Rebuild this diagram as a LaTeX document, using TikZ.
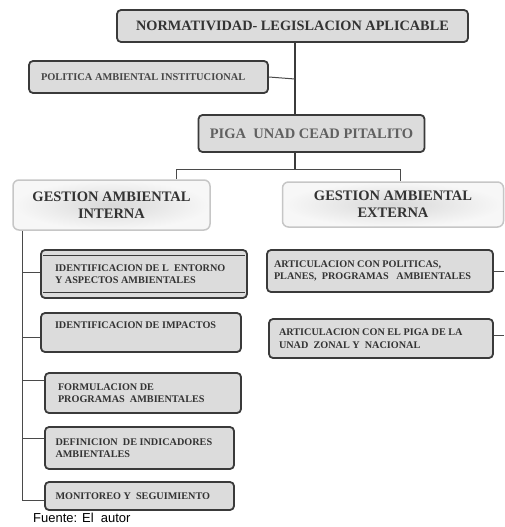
\documentclass[tikz,border=0pt]{standalone}
\usepackage{fontspec}
\setmainfont{Liberation Serif}
\newfontfamily\arialfont{Liberation Sans}
\definecolor{boxfill}{HTML}{DCDCDC}
\definecolor{boxline}{HTML}{3A3A3A}
\definecolor{txt}{HTML}{333333}
\definecolor{linec}{HTML}{4A4A4A}
\begin{document}
\begin{tikzpicture}[x=1pt,y=-1pt,
  darkbox/.style={draw=boxline, line width=1.8pt, fill=boxfill, rounded corners=4pt,
     inner sep=0pt, text=txt},
  smallbox/.style={darkbox, font=\fontsize{10.2}{12.5}\selectfont\bfseries, align=left},
  gestbox/.style={draw=gray!45, line width=1.5pt, rounded corners=6pt, inner color=gray!30,
     outer color=gray!6, inner sep=0pt, text=txt, align=center,
     font=\fontsize{14.5}{17}\selectfont\bfseries},
  conn/.style={draw=linec, line width=1pt},
  thickconn/.style={draw=linec!80!black, line width=2.2pt}]
\useasboundingbox (0,0) rectangle (504,527);

% top level
\node[darkbox, minimum width=351pt, minimum height=32pt,
  font=\fontsize{14.3}{16}\selectfont\bfseries] (norm) at (292.5,26)
  {NORMATIVIDAD- LEGISLACION APLICABLE};
\node[darkbox, minimum width=239pt, minimum height=32pt, text=gray!55!black,
  font=\fontsize{10.4}{12}\selectfont\bfseries] (pol) at (148.5,77)
  {\begin{minipage}{215pt}POLITICA AMBIENTAL INSTITUCIONAL\end{minipage}};
\node[darkbox, minimum width=226pt, minimum height=37pt, text=gray!75!black,
  font=\fontsize{14.5}{16}\selectfont\bfseries] (piga) at (311.5,133.5)
  {PIGA\ \ UNAD CEAD PITALITO};

% gestion boxes
\node[gestbox, minimum width=197pt, minimum height=50pt] (gi) at (111.5,205)
  {GESTION AMBIENTAL\\INTERNA};
\node[gestbox, minimum width=221pt, minimum height=45pt] (ge) at (393,204.5)
  {GESTION AMBIENTAL\\EXTERNA};

% internal boxes
\node[smallbox, minimum width=206pt, minimum height=48pt] (b1) at (144,274)
  {\begin{minipage}{178pt}IDENTIFICACION DE L\ \ ENTORNO\\Y ASPECTOS AMBIENTALES\end{minipage}};
\draw[boxline, line width=0.6pt] ([xshift=3pt,yshift=-6pt]b1.north west) -- ([xshift=-3pt,yshift=-6pt]b1.north east);
\draw[boxline, line width=0.6pt] ([xshift=3pt,yshift=7pt]b1.south west) -- ([xshift=-3pt,yshift=7pt]b1.south east);
\node[smallbox, minimum width=200pt, minimum height=39pt] (b2) at (141,332.5)
  {\begin{minipage}{172pt}IDENTIFICACION DE IMPACTOS\\[3pt]\end{minipage}};
\node[smallbox, minimum width=196pt, minimum height=40pt] (b3) at (143,393)
  {\begin{minipage}{170pt}FORMULACION DE\\PROGRAMAS\ \ AMBIENTALES\end{minipage}};
\node[smallbox, minimum width=189pt, minimum height=42pt] (b4) at (139.5,448)
  {\begin{minipage}{168pt}DEFINICION\ \ DE INDICADORES\\AMBIENTALES\end{minipage}};
\node[smallbox, minimum width=189pt, minimum height=28pt] (b5) at (139.5,496)
  {\begin{minipage}{168pt}MONITOREO Y\ \ SEGUIMIENTO\end{minipage}};

% external boxes
\node[smallbox, minimum width=226pt, minimum height=42pt] (ra) at (380,271)
  {\begin{minipage}{212pt}ARTICULACION CON POLITICAS,\\PLANES,\ \ PROGRAMAS\ \ \ AMBIENTALES\end{minipage}};
\node[smallbox, minimum width=224pt, minimum height=39pt] (rb) at (381,338.5)
  {\begin{minipage}{204pt}ARTICULACION CON EL PIGA DE LA\\UNAD\ \ ZONAL Y\ \ NACIONAL\end{minipage}};

\node[font=\arialfont\fontsize{13}{14}\selectfont, anchor=west, text=black, inner sep=0pt] (src) at (33,518)
  {Fuente: El\ \ autor};

% connectors
\coordinate (spineA) at (295,79);
\coordinate (split) at (295,169);
\coordinate (splitL) at (176,169);
\coordinate (splitR) at (400,169);
\draw[thickconn] (norm.south -| split) -- (piga.north -| split);
\draw[conn] (pol.east) -- (spineA);
\draw[thickconn] (piga.south -| split) -- (split);
\draw[conn] (splitL) -- (splitR);
\draw[conn] (splitL) -- (gi.north -| splitL);
\draw[conn] (splitR) -- (ge.north -| splitR);

\coordinate (lsp) at (22,230);
\coordinate (lsp5) at (22,500);
\coordinate (e1) at (22,272);
\coordinate (e2) at (22,337);
\coordinate (e3) at (22,380);
\coordinate (e4) at (22,438);
\draw[conn] (gi.south -| lsp) -- (lsp5) -- (lsp5 -| b5.west);
\draw[conn] (e1) -- (e1 -| b1.west);
\draw[conn] (e2) -- (e2 -| b2.west);
\draw[conn] (e3) -- (e3 -| b3.west);
\draw[conn] (e4) -- (e4 -| b4.west);

\coordinate (r1) at (504,271);
\coordinate (r2) at (504,335);
\draw[conn] (ra.east) -- (r1);
\draw[conn] (rb.east |- r2) -- (r2);
\end{tikzpicture}
\end{document}
